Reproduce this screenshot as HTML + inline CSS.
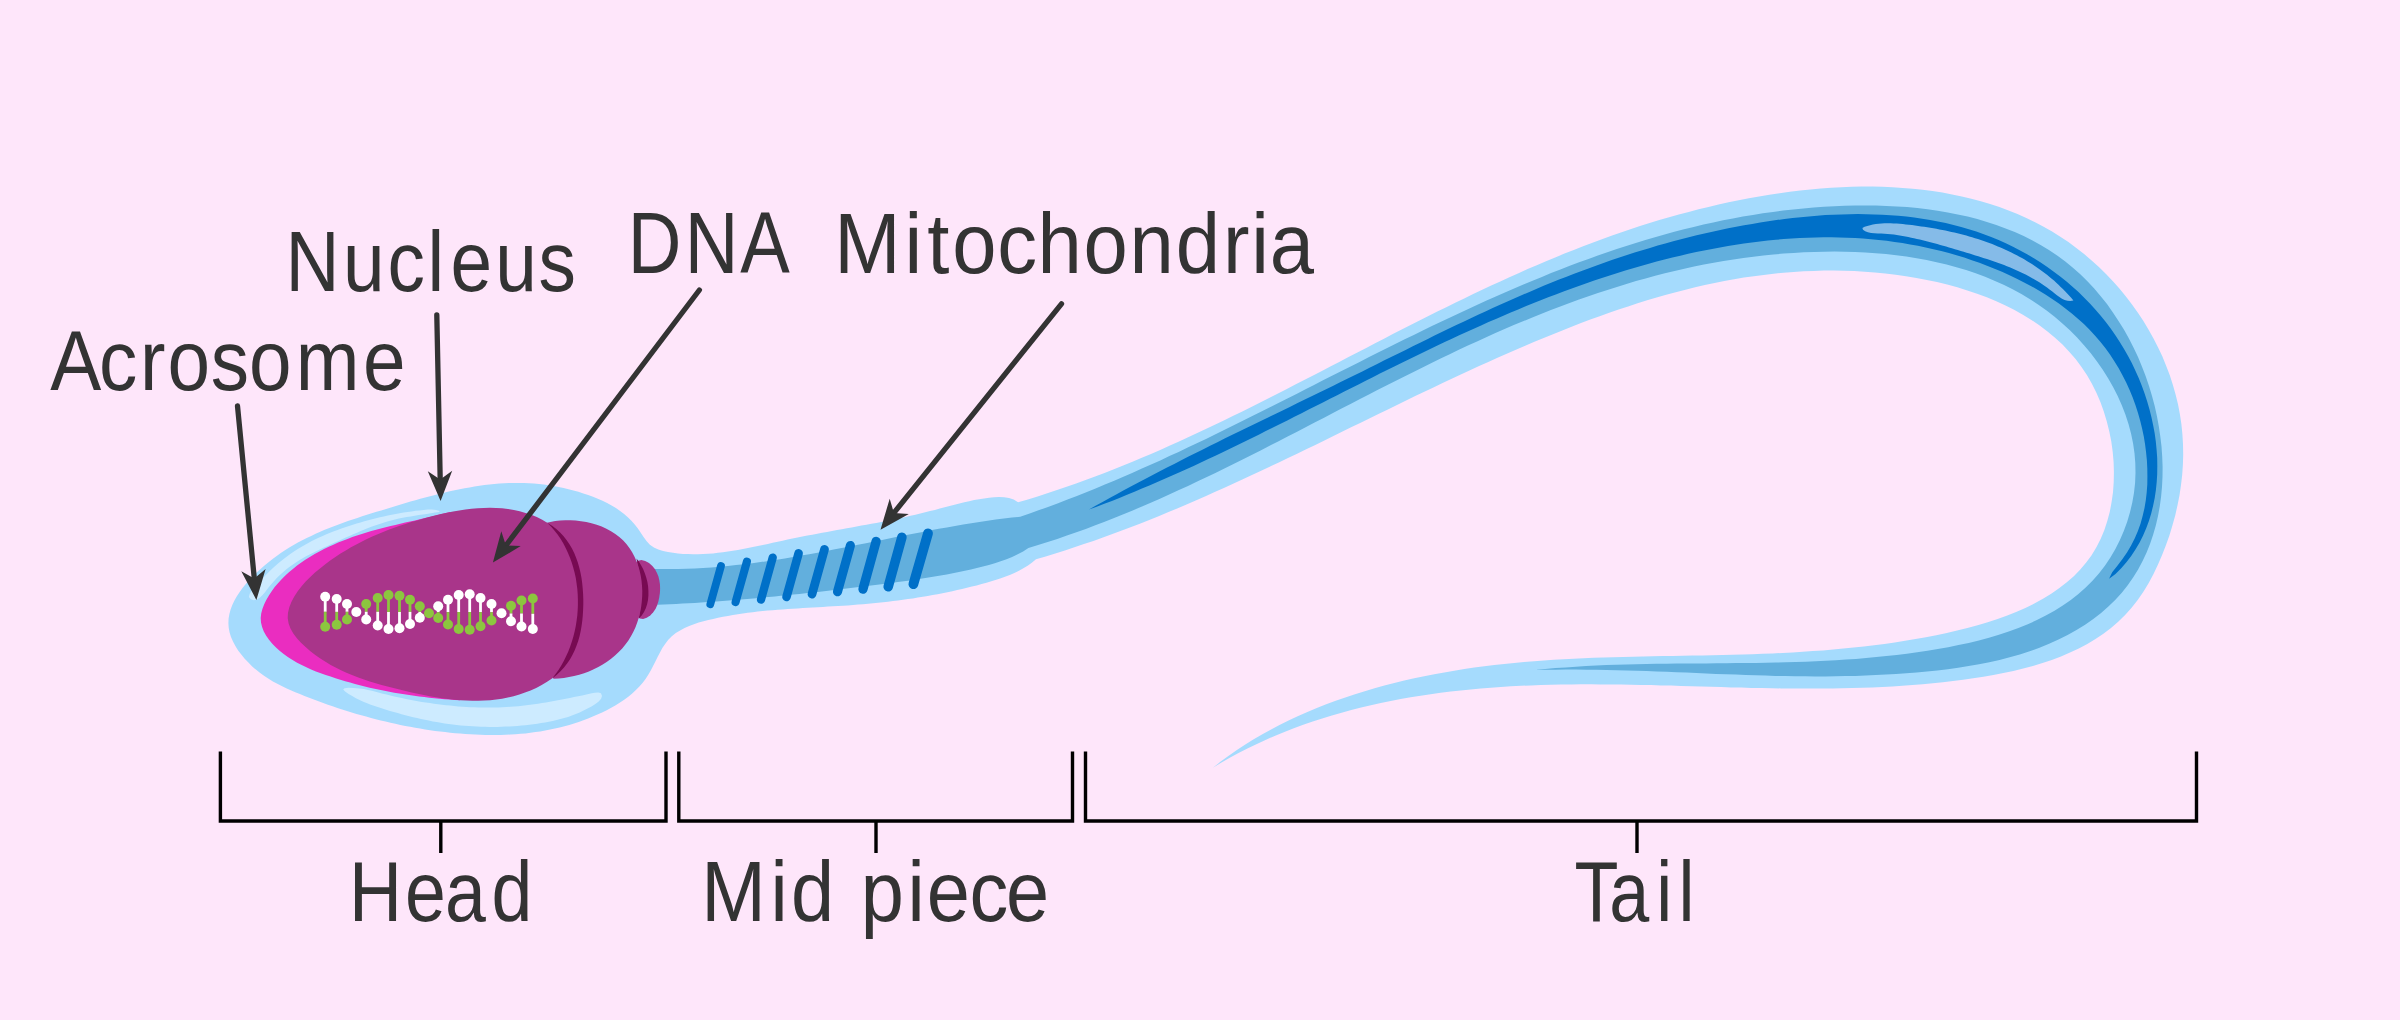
<!DOCTYPE html><html><head><meta charset="utf-8"><title>Sperm structure</title><style>html,body{margin:0;padding:0;background:#FEE6FA}svg{display:block}</style></head><body>
<svg width="2400" height="1020" viewBox="0 0 2400 1020" font-family="'Liberation Sans', sans-serif" fill="#333333">
<rect width="2400" height="1020" fill="#FEE6FA"/>
<path d="M1018.1 502.3 L1013.7 499.6 L1009.0 497.9 L1004.1 497.2 L999.1 497.0 L994.1 497.3 L989.1 497.8 L984.1 498.4 L979.1 499.2 L974.1 500.1 L969.2 501.2 L964.3 502.3 L959.4 503.5 L954.5 504.7 L949.6 506.0 L944.7 507.3 L939.8 508.6 L934.9 509.9 L930.0 511.1 L925.2 512.3 L920.3 513.5 L915.4 514.7 L910.5 515.8 L905.6 516.9 L900.7 517.9 L895.9 519.0 L891.0 520.0 L886.1 521.0 L881.2 521.9 L876.3 522.9 L871.4 523.8 L866.5 524.7 L861.5 525.6 L856.6 526.5 L851.7 527.4 L846.8 528.3 L841.9 529.2 L837.0 530.1 L832.0 531.0 L827.1 531.9 L822.2 532.8 L817.3 533.8 L812.3 534.7 L807.4 535.6 L802.4 536.6 L797.5 537.6 L792.5 538.6 L787.6 539.6 L782.6 540.7 L777.7 541.8 L772.7 542.8 L767.8 543.9 L762.8 545.0 L757.8 546.1 L752.8 547.1 L747.9 548.1 L742.9 549.0 L737.9 549.9 L732.9 550.8 L727.9 551.6 L723.0 552.2 L718.0 552.8 L713.0 553.4 L708.0 553.8 L703.0 554.0 L698.0 554.2 L693.0 554.2 L688.0 554.1 L683.0 553.9 L678.0 553.4 L673.0 552.8 L668.0 552.1 L663.1 551.1 L658.3 549.6 L653.9 547.5 L649.9 544.7 L646.5 541.0 L643.4 536.7 L640.6 532.4 L637.7 528.3 L634.7 524.4 L631.4 520.7 L627.8 517.2 L624.1 514.0 L620.1 510.9 L615.9 508.1 L611.6 505.5 L607.1 503.1 L602.5 500.8 L597.8 498.7 L593.0 496.8 L588.2 495.0 L583.3 493.4 L578.4 491.8 L573.4 490.5 L568.5 489.2 L563.6 488.0 L558.6 487.0 L553.7 486.1 L548.8 485.3 L543.8 484.6 L538.9 484.0 L533.9 483.6 L529.0 483.2 L524.1 483.0 L519.1 482.9 L514.2 482.9 L509.2 483.1 L504.2 483.3 L499.3 483.6 L494.3 484.0 L489.4 484.5 L484.4 485.1 L479.5 485.8 L474.5 486.5 L469.6 487.4 L464.6 488.3 L459.7 489.2 L454.7 490.3 L449.8 491.3 L444.8 492.5 L439.9 493.7 L435.0 494.9 L430.1 496.2 L425.2 497.5 L420.3 498.8 L415.4 500.2 L410.5 501.6 L405.6 503.1 L400.7 504.5 L395.8 506.0 L391.0 507.4 L386.1 508.9 L381.3 510.4 L376.5 511.8 L371.7 513.3 L366.9 514.8 L362.1 516.3 L357.4 517.9 L352.6 519.5 L347.9 521.1 L343.2 522.7 L338.6 524.4 L333.9 526.2 L329.3 528.0 L324.7 529.8 L320.2 531.8 L315.6 533.8 L311.2 535.9 L306.7 538.0 L302.3 540.3 L297.9 542.6 L293.6 545.1 L289.3 547.6 L285.0 550.3 L280.8 553.1 L276.7 556.0 L272.6 559.0 L268.5 562.2 L264.5 565.5 L260.6 568.9 L256.7 572.5 L252.9 576.2 L249.2 580.0 L245.8 584.0 L242.5 588.0 L239.5 592.2 L236.7 596.4 L234.3 600.7 L232.3 605.1 L230.6 609.6 L229.4 614.1 L228.6 618.6 L228.4 623.2 L228.7 627.8 L229.6 632.4 L231.0 637.0 L233.0 641.5 L235.4 646.0 L238.1 650.4 L241.3 654.6 L244.7 658.7 L248.4 662.6 L252.2 666.4 L256.2 669.8 L260.2 673.0 L264.4 676.0 L268.6 678.8 L272.9 681.4 L277.3 683.8 L281.7 686.1 L286.2 688.2 L290.7 690.3 L295.3 692.2 L299.9 694.1 L304.5 696.0 L309.2 697.8 L313.8 699.5 L318.5 701.3 L323.2 703.0 L327.9 704.7 L332.6 706.3 L337.4 707.9 L342.1 709.4 L346.9 711.0 L351.7 712.4 L356.5 713.9 L361.3 715.3 L366.1 716.6 L371.0 717.9 L375.8 719.2 L380.7 720.4 L385.6 721.6 L390.5 722.7 L395.4 723.8 L400.3 724.9 L405.3 725.9 L410.2 726.8 L415.2 727.7 L420.1 728.6 L425.1 729.4 L430.1 730.2 L435.1 730.9 L440.1 731.5 L445.1 732.1 L450.2 732.7 L455.2 733.2 L460.2 733.6 L465.3 734.0 L470.3 734.3 L475.4 734.6 L480.4 734.8 L485.5 734.9 L490.5 735.0 L495.6 735.0 L500.6 734.9 L505.6 734.8 L510.6 734.5 L515.6 734.2 L520.6 733.8 L525.5 733.4 L530.5 732.8 L535.4 732.1 L540.3 731.4 L545.2 730.6 L550.1 729.6 L554.9 728.6 L559.7 727.5 L564.5 726.3 L569.3 724.9 L574.0 723.5 L578.7 721.9 L583.4 720.3 L588.1 718.5 L592.8 716.6 L597.4 714.6 L602.1 712.5 L606.7 710.2 L611.2 707.8 L615.7 705.3 L620.0 702.6 L624.2 699.7 L628.3 696.7 L632.2 693.5 L635.9 690.1 L639.4 686.6 L642.7 682.8 L645.7 678.8 L648.4 674.6 L650.9 670.2 L653.2 665.8 L655.5 661.2 L657.7 656.7 L660.1 652.2 L662.5 647.8 L665.3 643.7 L668.3 639.8 L671.8 636.2 L675.8 633.1 L680.1 630.4 L684.6 628.0 L689.2 626.0 L693.9 624.2 L698.7 622.6 L703.5 621.3 L708.3 620.0 L713.2 618.9 L718.1 617.8 L723.0 616.8 L727.9 615.9 L732.9 615.0 L737.8 614.2 L742.8 613.5 L747.7 612.8 L752.7 612.2 L757.7 611.6 L762.7 611.1 L767.7 610.6 L772.7 610.2 L777.7 609.8 L782.7 609.4 L787.7 609.0 L792.7 608.7 L797.8 608.4 L802.8 608.1 L807.8 607.8 L812.8 607.5 L817.9 607.2 L822.9 606.9 L827.9 606.6 L833.0 606.3 L838.0 606.0 L843.0 605.7 L848.0 605.4 L853.1 605.0 L858.1 604.6 L863.1 604.2 L868.1 603.7 L873.1 603.3 L878.1 602.8 L883.1 602.2 L888.0 601.7 L893.0 601.1 L898.0 600.5 L903.0 599.8 L907.9 599.1 L912.9 598.4 L917.8 597.6 L922.8 596.8 L927.7 596.0 L932.6 595.1 L937.6 594.2 L942.5 593.2 L947.4 592.2 L952.3 591.2 L957.2 590.1 L962.1 589.0 L967.0 587.8 L971.9 586.6 L976.7 585.4 L981.6 584.1 L986.5 582.7 L991.3 581.3 L996.2 579.8 L1000.9 578.2 L1005.7 576.6 L1010.4 574.7 L1014.9 572.7 L1019.4 570.5 L1023.8 568.1 L1028.0 565.4 L1032.1 562.4 L1036.0 559.2 L1045.7 556.4 L1055.3 553.4 L1064.9 550.4 L1074.4 547.3 L1083.9 544.1 L1093.4 540.9 L1102.9 537.5 L1112.4 534.1 L1121.8 530.6 L1131.2 527.0 L1140.5 523.4 L1149.9 519.7 L1159.2 515.9 L1168.5 512.1 L1177.8 508.2 L1187.1 504.2 L1196.3 500.2 L1205.5 496.2 L1214.7 492.1 L1223.9 488.0 L1233.1 483.8 L1242.3 479.6 L1251.4 475.3 L1260.6 471.0 L1269.7 466.7 L1278.8 462.4 L1288.0 458.0 L1297.1 453.7 L1306.2 449.3 L1315.3 444.9 L1324.4 440.4 L1333.4 436.0 L1342.5 431.6 L1351.6 427.1 L1360.7 422.7 L1369.8 418.2 L1378.9 413.8 L1387.9 409.4 L1397.0 404.9 L1406.1 400.5 L1415.2 396.1 L1424.3 391.8 L1433.4 387.4 L1442.6 383.1 L1451.7 378.8 L1460.8 374.5 L1470.0 370.3 L1479.1 366.1 L1488.3 361.9 L1497.5 357.8 L1506.7 353.8 L1515.9 349.7 L1525.2 345.8 L1534.4 341.8 L1543.7 338.0 L1553.0 334.2 L1562.3 330.4 L1571.6 326.7 L1581.0 323.1 L1590.3 319.6 L1599.7 316.2 L1609.2 312.8 L1618.6 309.5 L1628.1 306.4 L1637.6 303.3 L1647.1 300.3 L1656.6 297.5 L1666.2 294.8 L1675.8 292.2 L1685.5 289.7 L1695.1 287.3 L1704.8 285.1 L1714.6 283.0 L1724.3 281.1 L1734.1 279.3 L1743.9 277.6 L1753.8 276.2 L1763.7 274.9 L1773.6 273.7 L1783.6 272.7 L1793.6 271.9 L1803.6 271.3 L1813.7 270.9 L1823.8 270.6 L1833.9 270.6 L1844.1 270.8 L1854.3 271.1 L1864.6 271.7 L1874.9 272.5 L1885.3 273.5 L1895.7 274.7 L1906.0 276.2 L1916.4 277.9 L1926.8 279.9 L1937.0 282.1 L1947.2 284.6 L1957.3 287.3 L1967.3 290.4 L1977.1 293.7 L1986.8 297.3 L1996.3 301.2 L2005.5 305.5 L2014.5 310.1 L2023.3 315.0 L2031.8 320.2 L2040.0 325.8 L2047.8 331.7 L2055.3 338.0 L2062.5 344.6 L2069.2 351.7 L2075.6 359.1 L2081.5 366.9 L2086.9 375.1 L2091.9 383.7 L2096.4 392.7 L2100.4 402.0 L2103.8 411.6 L2106.8 421.4 L2109.3 431.4 L2111.3 441.5 L2112.7 451.7 L2113.6 461.9 L2113.9 472.1 L2113.7 482.2 L2113.0 492.2 L2111.6 502.1 L2109.8 511.8 L2107.3 521.1 L2104.3 530.2 L2100.6 539.0 L2096.4 547.3 L2091.6 555.2 L2086.2 562.6 L2080.3 569.6 L2073.8 576.2 L2066.8 582.3 L2059.4 588.1 L2051.6 593.5 L2043.4 598.6 L2034.8 603.3 L2025.9 607.7 L2016.7 611.7 L2007.3 615.5 L1997.6 619.0 L1987.7 622.3 L1977.6 625.3 L1967.4 628.1 L1957.1 630.6 L1946.8 633.0 L1936.3 635.2 L1925.9 637.2 L1915.5 639.1 L1905.1 640.8 L1894.8 642.4 L1884.4 643.9 L1874.1 645.2 L1863.9 646.5 L1853.6 647.6 L1843.4 648.6 L1833.2 649.6 L1823.1 650.4 L1812.9 651.1 L1802.8 651.8 L1792.7 652.4 L1782.7 652.9 L1772.6 653.4 L1762.6 653.8 L1752.5 654.2 L1742.5 654.5 L1732.5 654.8 L1722.6 655.0 L1712.6 655.2 L1702.6 655.4 L1692.7 655.6 L1682.7 655.8 L1672.8 655.9 L1662.9 656.1 L1653.0 656.3 L1643.1 656.5 L1633.2 656.7 L1623.3 656.9 L1613.3 657.2 L1603.4 657.5 L1593.5 657.8 L1583.6 658.2 L1573.7 658.7 L1563.8 659.2 L1553.9 659.8 L1544.0 660.5 L1534.1 661.2 L1524.1 662.0 L1514.2 662.9 L1504.2 664.0 L1494.3 665.1 L1484.3 666.3 L1474.3 667.6 L1464.3 669.1 L1454.3 670.7 L1444.3 672.4 L1434.3 674.2 L1424.2 676.2 L1414.2 678.3 L1404.3 680.6 L1394.3 683.0 L1384.4 685.6 L1374.6 688.3 L1364.8 691.2 L1355.0 694.2 L1345.3 697.4 L1335.7 700.8 L1326.2 704.3 L1316.8 708.0 L1307.4 711.9 L1298.2 716.0 L1289.1 720.3 L1280.0 724.7 L1271.1 729.4 L1262.4 734.2 L1253.7 739.3 L1245.3 744.6 L1236.9 750.0 L1228.7 755.7 L1220.7 761.6 L1212.9 767.7 L1221.5 762.5 L1230.2 757.6 L1239.0 752.8 L1247.9 748.3 L1256.9 743.9 L1266.0 739.7 L1275.2 735.7 L1284.4 731.9 L1293.8 728.3 L1303.2 724.8 L1312.7 721.5 L1322.2 718.4 L1331.9 715.5 L1341.6 712.7 L1351.3 710.0 L1361.1 707.6 L1370.9 705.2 L1380.8 703.0 L1390.7 701.0 L1400.6 699.1 L1410.6 697.3 L1420.6 695.7 L1430.6 694.2 L1440.6 692.8 L1450.6 691.6 L1460.7 690.4 L1470.7 689.4 L1480.7 688.5 L1490.8 687.7 L1500.8 687.0 L1510.8 686.3 L1520.9 685.8 L1530.9 685.4 L1540.9 685.0 L1550.9 684.8 L1560.9 684.6 L1571.0 684.4 L1581.0 684.3 L1591.0 684.3 L1601.0 684.4 L1611.1 684.4 L1621.1 684.6 L1631.1 684.7 L1641.1 684.9 L1651.1 685.1 L1661.2 685.4 L1671.2 685.6 L1681.2 685.9 L1691.3 686.2 L1701.3 686.5 L1711.3 686.8 L1721.3 687.1 L1731.4 687.4 L1741.4 687.6 L1751.5 687.9 L1761.5 688.1 L1771.5 688.3 L1781.6 688.4 L1791.6 688.5 L1801.7 688.6 L1811.8 688.6 L1821.8 688.6 L1831.9 688.5 L1841.9 688.3 L1852.0 688.1 L1862.1 687.8 L1872.2 687.4 L1882.3 687.0 L1892.4 686.4 L1902.4 685.8 L1912.5 685.1 L1922.6 684.2 L1932.8 683.3 L1942.9 682.2 L1953.0 681.1 L1963.1 679.8 L1973.2 678.3 L1983.4 676.8 L1993.4 675.0 L2003.4 673.1 L2013.4 671.0 L2023.2 668.6 L2032.9 666.0 L2042.5 663.1 L2051.8 659.9 L2061.0 656.5 L2070.0 652.6 L2078.8 648.5 L2087.3 643.9 L2095.5 639.0 L2103.4 633.7 L2111.0 627.9 L2118.2 621.7 L2125.1 614.9 L2131.6 607.7 L2137.7 600.0 L2143.4 591.8 L2148.7 583.1 L2153.5 574.0 L2158.0 564.6 L2162.1 555.0 L2165.9 545.3 L2169.4 535.4 L2172.4 525.5 L2175.2 515.4 L2177.5 505.3 L2179.5 495.2 L2181.0 485.0 L2182.2 474.8 L2182.9 464.6 L2183.2 454.4 L2183.0 444.3 L2182.4 434.2 L2181.4 424.2 L2179.9 414.2 L2178.0 404.3 L2175.6 394.5 L2172.9 384.9 L2169.8 375.3 L2166.2 365.9 L2162.4 356.6 L2158.1 347.4 L2153.5 338.5 L2148.6 329.7 L2143.4 321.1 L2137.9 312.7 L2132.0 304.5 L2125.9 296.5 L2119.6 288.7 L2112.9 281.3 L2106.0 274.0 L2098.9 267.1 L2091.6 260.4 L2084.1 254.0 L2076.3 247.9 L2068.4 242.1 L2060.3 236.7 L2052.1 231.5 L2043.6 226.7 L2035.1 222.2 L2026.3 218.0 L2017.5 214.1 L2008.5 210.4 L1999.4 207.1 L1990.1 204.0 L1980.8 201.2 L1971.3 198.7 L1961.8 196.4 L1952.1 194.4 L1942.4 192.6 L1932.5 191.1 L1922.6 189.8 L1912.7 188.7 L1902.6 187.9 L1892.5 187.3 L1882.4 186.8 L1872.2 186.6 L1862.0 186.6 L1851.7 186.8 L1841.4 187.2 L1831.1 187.8 L1820.8 188.5 L1810.5 189.5 L1800.2 190.5 L1789.9 191.8 L1779.6 193.2 L1769.4 194.8 L1759.1 196.4 L1748.9 198.3 L1738.7 200.2 L1728.6 202.3 L1718.5 204.6 L1708.5 206.9 L1698.6 209.3 L1688.7 211.9 L1678.8 214.5 L1669.1 217.3 L1659.3 220.1 L1649.6 223.1 L1640.0 226.1 L1630.4 229.3 L1620.9 232.5 L1611.4 235.8 L1601.9 239.2 L1592.5 242.7 L1583.1 246.3 L1573.8 249.9 L1564.5 253.6 L1555.2 257.4 L1546.0 261.3 L1536.8 265.2 L1527.6 269.1 L1518.5 273.2 L1509.4 277.3 L1500.3 281.4 L1491.2 285.6 L1482.2 289.8 L1473.2 294.1 L1464.2 298.4 L1455.2 302.8 L1446.3 307.2 L1437.3 311.6 L1428.4 316.1 L1419.5 320.5 L1410.6 325.0 L1401.7 329.6 L1392.8 334.1 L1384.0 338.7 L1375.1 343.3 L1366.2 347.9 L1357.4 352.5 L1348.5 357.1 L1339.7 361.7 L1330.8 366.3 L1321.9 370.9 L1313.1 375.5 L1304.2 380.1 L1295.3 384.6 L1286.4 389.2 L1277.5 393.7 L1268.6 398.3 L1259.7 402.8 L1250.8 407.2 L1241.8 411.7 L1232.8 416.1 L1223.8 420.5 L1214.8 424.8 L1205.8 429.1 L1196.7 433.3 L1187.6 437.6 L1178.5 441.7 L1169.4 445.8 L1160.2 449.9 L1151.0 453.9 L1141.8 457.8 L1132.5 461.7 L1123.2 465.5 L1113.9 469.3 L1104.5 472.9 L1095.1 476.5 L1085.6 480.0 L1076.1 483.5 L1066.6 486.8 L1057.0 490.1 L1047.3 493.3 L1037.6 496.4 L1027.9 499.4Z" fill="#A5DBFD"/>
<path d="M653.5 569.0 L661.8 569.1 L670.1 569.1 L678.4 569.0 L686.6 568.8 L694.9 568.4 L703.1 568.0 L711.4 567.4 L719.6 566.7 L727.8 566.0 L736.0 565.1 L744.1 564.2 L752.3 563.2 L760.5 562.1 L768.6 560.9 L776.8 559.7 L784.9 558.4 L793.0 557.0 L801.1 555.6 L809.3 554.2 L817.4 552.7 L825.5 551.2 L833.6 549.6 L841.7 548.0 L849.8 546.4 L857.9 544.8 L866.0 543.2 L874.1 541.5 L882.1 539.9 L890.2 538.3 L898.3 536.6 L906.4 535.0 L914.5 533.4 L922.6 531.9 L930.7 530.3 L938.8 528.8 L946.9 527.4 L955.0 525.9 L963.2 524.6 L971.3 523.2 L979.4 522.0 L987.6 520.8 L995.7 519.6 L1003.9 518.6 L1012.0 517.6 L1020.2 516.7 L1029.7 513.4 L1039.2 510.1 L1048.7 506.7 L1058.1 503.2 L1067.5 499.6 L1076.9 495.9 L1086.3 492.2 L1095.6 488.4 L1104.9 484.6 L1114.2 480.7 L1123.4 476.7 L1132.7 472.7 L1141.9 468.6 L1151.1 464.5 L1160.3 460.4 L1169.4 456.1 L1178.6 451.9 L1187.7 447.6 L1196.8 443.3 L1206.0 438.9 L1215.0 434.5 L1224.1 430.1 L1233.2 425.6 L1242.3 421.1 L1251.3 416.6 L1260.4 412.1 L1269.4 407.6 L1278.4 403.0 L1287.4 398.5 L1296.5 393.9 L1305.5 389.3 L1314.5 384.7 L1323.5 380.1 L1332.5 375.6 L1341.5 371.0 L1350.6 366.4 L1359.6 361.9 L1368.6 357.3 L1377.6 352.8 L1386.7 348.3 L1395.7 343.8 L1404.7 339.3 L1413.8 334.9 L1422.8 330.5 L1431.9 326.1 L1441.0 321.7 L1450.1 317.4 L1459.2 313.2 L1468.3 308.9 L1477.4 304.7 L1486.6 300.6 L1495.8 296.5 L1504.9 292.5 L1514.1 288.5 L1523.4 284.5 L1532.6 280.7 L1541.9 276.9 L1551.1 273.1 L1560.4 269.4 L1569.8 265.8 L1579.1 262.3 L1588.5 258.9 L1597.9 255.5 L1607.3 252.2 L1616.8 249.0 L1626.3 245.9 L1635.8 242.9 L1645.4 240.0 L1655.0 237.2 L1664.6 234.4 L1674.3 231.8 L1684.0 229.3 L1693.7 226.9 L1703.5 224.6 L1713.3 222.4 L1723.1 220.3 L1733.0 218.4 L1742.9 216.6 L1752.9 214.9 L1762.9 213.3 L1773.0 211.9 L1783.1 210.6 L1793.3 209.4 L1803.5 208.4 L1813.7 207.5 L1824.0 206.8 L1834.4 206.2 L1844.7 205.8 L1855.1 205.5 L1865.5 205.5 L1876.0 205.6 L1886.3 205.9 L1896.7 206.4 L1907.0 207.1 L1917.3 208.1 L1927.5 209.3 L1937.7 210.7 L1947.7 212.4 L1957.7 214.4 L1967.6 216.6 L1977.3 219.1 L1986.9 221.9 L1996.3 225.0 L2005.6 228.4 L2014.8 232.1 L2023.7 236.1 L2032.5 240.5 L2041.0 245.2 L2049.3 250.3 L2057.5 255.7 L2065.3 261.5 L2072.9 267.7 L2080.3 274.3 L2087.4 281.3 L2094.2 288.6 L2100.7 296.2 L2107.0 304.1 L2112.9 312.4 L2118.5 320.9 L2123.9 329.6 L2128.9 338.6 L2133.6 347.8 L2138.0 357.1 L2142.0 366.7 L2145.7 376.3 L2149.0 386.1 L2152.0 396.1 L2154.7 406.1 L2156.9 416.1 L2158.8 426.2 L2160.3 436.4 L2161.5 446.5 L2162.2 456.6 L2162.6 466.7 L2162.5 476.8 L2162.0 486.7 L2161.1 496.6 L2159.8 506.3 L2158.0 515.9 L2155.8 525.4 L2153.2 534.6 L2150.1 543.7 L2146.6 552.5 L2142.6 561.1 L2138.1 569.5 L2133.1 577.5 L2127.7 585.3 L2121.8 592.7 L2115.4 599.8 L2108.4 606.6 L2101.1 613.0 L2093.3 619.0 L2085.1 624.7 L2076.5 630.0 L2067.6 634.9 L2058.5 639.5 L2049.1 643.8 L2039.5 647.7 L2029.7 651.2 L2019.8 654.4 L2009.7 657.3 L1999.5 659.9 L1989.3 662.3 L1979.0 664.3 L1968.6 666.1 L1958.2 667.8 L1947.8 669.2 L1937.3 670.4 L1926.9 671.5 L1916.6 672.5 L1906.3 673.3 L1896.0 674.0 L1885.8 674.6 L1875.6 675.1 L1865.5 675.6 L1855.4 675.9 L1845.3 676.1 L1835.2 676.3 L1825.2 676.4 L1815.2 676.4 L1805.3 676.3 L1795.3 676.2 L1785.4 676.1 L1775.5 675.9 L1765.6 675.6 L1755.7 675.3 L1745.8 675.0 L1736.0 674.6 L1726.1 674.3 L1716.2 673.9 L1706.3 673.5 L1696.4 673.1 L1686.5 672.6 L1676.6 672.2 L1666.7 671.8 L1656.7 671.5 L1646.8 671.1 L1636.8 670.8 L1626.8 670.5 L1616.7 670.2 L1606.6 670.0 L1596.5 669.8 L1586.4 669.7 L1576.2 669.6 L1566.0 669.6 L1555.7 669.7 L1545.4 669.8 L1535.0 670.0 L1545.3 669.0 L1555.6 668.1 L1565.8 667.4 L1576.0 666.7 L1586.1 666.1 L1596.3 665.6 L1606.4 665.1 L1616.5 664.8 L1626.5 664.5 L1636.5 664.2 L1646.6 664.0 L1656.5 663.8 L1666.5 663.7 L1676.5 663.6 L1686.4 663.5 L1696.4 663.4 L1706.3 663.4 L1716.3 663.3 L1726.2 663.2 L1736.1 663.1 L1746.1 663.0 L1756.0 662.9 L1765.9 662.8 L1775.9 662.6 L1785.8 662.3 L1795.8 662.1 L1805.8 661.7 L1815.8 661.3 L1825.8 660.8 L1835.9 660.3 L1845.9 659.6 L1856.0 658.9 L1866.1 658.1 L1876.3 657.1 L1886.4 656.1 L1896.7 654.9 L1906.9 653.7 L1917.2 652.3 L1927.5 650.7 L1937.8 649.0 L1948.2 647.2 L1958.5 645.1 L1968.7 642.9 L1978.9 640.4 L1989.0 637.7 L1998.9 634.8 L2008.7 631.5 L2018.4 628.0 L2027.8 624.2 L2036.9 620.1 L2045.8 615.6 L2054.5 610.8 L2062.8 605.6 L2070.8 600.0 L2078.4 594.1 L2085.7 587.6 L2092.5 580.8 L2098.9 573.5 L2104.9 565.7 L2110.4 557.6 L2115.4 549.1 L2119.8 540.2 L2123.8 531.1 L2127.2 521.8 L2130.0 512.2 L2132.3 502.6 L2134.0 492.7 L2135.1 482.9 L2135.5 473.0 L2135.3 463.1 L2134.5 453.2 L2133.1 443.5 L2131.1 433.7 L2128.5 424.1 L2125.4 414.6 L2121.8 405.3 L2117.7 396.1 L2113.1 387.0 L2108.1 378.2 L2102.6 369.6 L2096.8 361.2 L2090.6 353.0 L2084.0 345.2 L2077.1 337.6 L2069.9 330.3 L2062.4 323.4 L2054.6 316.8 L2046.6 310.6 L2038.4 304.7 L2030.0 299.2 L2021.4 294.1 L2012.6 289.3 L2003.6 284.8 L1994.4 280.7 L1985.1 276.8 L1975.7 273.3 L1966.1 270.1 L1956.4 267.2 L1946.6 264.5 L1936.6 262.2 L1926.6 260.1 L1916.6 258.2 L1906.4 256.6 L1896.2 255.3 L1886.0 254.1 L1875.7 253.2 L1865.4 252.5 L1855.1 252.0 L1844.8 251.7 L1834.5 251.6 L1824.2 251.7 L1814.0 251.9 L1803.8 252.3 L1793.6 252.9 L1783.5 253.6 L1773.4 254.5 L1763.4 255.5 L1753.4 256.7 L1743.4 258.0 L1733.5 259.4 L1723.6 261.0 L1713.7 262.7 L1703.9 264.6 L1694.1 266.6 L1684.3 268.7 L1674.6 271.0 L1664.9 273.3 L1655.2 275.8 L1645.6 278.4 L1636.0 281.1 L1626.4 283.9 L1616.9 286.9 L1607.4 289.9 L1597.9 293.0 L1588.5 296.2 L1579.0 299.5 L1569.6 303.0 L1560.3 306.5 L1550.9 310.0 L1541.6 313.7 L1532.3 317.4 L1523.0 321.3 L1513.8 325.1 L1504.6 329.1 L1495.4 333.1 L1486.2 337.2 L1477.0 341.4 L1467.9 345.6 L1458.8 349.8 L1449.7 354.2 L1440.6 358.5 L1431.5 362.9 L1422.5 367.4 L1413.5 371.9 L1404.4 376.4 L1395.4 380.9 L1386.4 385.5 L1377.4 390.1 L1368.4 394.7 L1359.5 399.3 L1350.5 404.0 L1341.5 408.6 L1332.5 413.3 L1323.6 418.0 L1314.6 422.6 L1305.6 427.3 L1296.6 431.9 L1287.6 436.6 L1278.6 441.2 L1269.6 445.8 L1260.6 450.4 L1251.6 454.9 L1242.6 459.5 L1233.5 464.0 L1224.4 468.4 L1215.4 472.9 L1206.3 477.3 L1197.2 481.6 L1188.0 485.9 L1178.9 490.1 L1169.7 494.3 L1160.5 498.4 L1151.3 502.5 L1142.0 506.5 L1132.7 510.4 L1123.4 514.3 L1114.1 518.0 L1104.7 521.7 L1095.3 525.3 L1085.8 528.9 L1076.4 532.3 L1066.9 535.6 L1057.3 538.9 L1047.7 542.0 L1038.1 545.1 L1028.4 548.0 L1023.1 551.4 L1017.7 554.3 L1012.1 556.9 L1006.5 559.2 L1000.7 561.3 L994.8 563.2 L988.9 564.9 L982.9 566.5 L976.9 568.0 L970.9 569.4 L964.9 570.8 L958.9 572.1 L952.8 573.3 L946.7 574.5 L940.6 575.6 L934.5 576.6 L928.4 577.6 L922.3 578.6 L916.2 579.5 L910.0 580.4 L903.9 581.2 L897.7 582.1 L891.6 582.9 L885.4 583.7 L879.3 584.4 L873.1 585.2 L867.0 586.0 L860.8 586.8 L854.7 587.5 L848.5 588.3 L842.4 589.0 L836.2 589.7 L830.1 590.4 L824.0 591.2 L817.8 591.9 L811.7 592.5 L805.5 593.2 L799.4 593.9 L793.2 594.5 L787.1 595.2 L780.9 595.8 L774.8 596.4 L768.6 597.0 L762.5 597.6 L756.3 598.2 L750.2 598.7 L744.0 599.3 L737.9 599.8 L731.7 600.3 L725.5 600.8 L719.4 601.2 L713.2 601.7 L707.0 602.1 L700.9 602.5 L694.7 602.9 L688.5 603.3 L682.3 603.6 L676.1 604.0 L669.9 604.3 L663.7 604.5 L657.5 604.8Z" fill="#62AFDD"/>
<path d="M1089.0 509.6 L1096.0 505.6 L1103.0 501.7 L1110.1 497.8 L1117.1 493.9 L1124.2 490.1 L1131.3 486.3 L1138.4 482.5 L1145.6 478.7 L1152.7 475.0 L1159.8 471.3 L1167.0 467.6 L1174.2 463.9 L1181.3 460.2 L1188.5 456.6 L1195.7 453.0 L1202.9 449.4 L1210.1 445.8 L1217.4 442.2 L1224.6 438.6 L1231.8 435.1 L1239.1 431.5 L1246.3 428.0 L1253.6 424.5 L1260.8 421.0 L1268.1 417.4 L1275.3 413.9 L1282.6 410.4 L1289.8 406.9 L1297.1 403.3 L1304.3 399.8 L1311.6 396.3 L1318.8 392.8 L1326.1 389.2 L1333.3 385.7 L1340.6 382.1 L1347.8 378.5 L1355.0 375.0 L1362.3 371.4 L1369.5 367.8 L1376.7 364.2 L1383.9 360.6 L1391.1 357.0 L1398.4 353.4 L1405.6 349.9 L1412.8 346.3 L1420.1 342.7 L1427.3 339.2 L1434.5 335.6 L1441.8 332.1 L1449.0 328.6 L1456.3 325.1 L1463.5 321.7 L1470.8 318.2 L1478.1 314.8 L1485.4 311.4 L1492.7 308.1 L1500.0 304.8 L1507.4 301.5 L1514.7 298.2 L1522.1 295.0 L1529.4 291.9 L1536.8 288.7 L1544.2 285.6 L1551.7 282.6 L1559.1 279.6 L1566.6 276.7 L1574.1 273.8 L1581.6 271.0 L1589.1 268.2 L1596.6 265.4 L1604.2 262.8 L1611.8 260.1 L1619.4 257.6 L1627.0 255.1 L1634.6 252.6 L1642.3 250.2 L1650.0 247.9 L1657.7 245.6 L1665.4 243.4 L1673.2 241.3 L1681.0 239.2 L1688.8 237.3 L1696.6 235.3 L1704.5 233.5 L1712.4 231.7 L1720.3 230.0 L1728.2 228.3 L1736.2 226.8 L1744.1 225.3 L1752.2 223.9 L1760.2 222.5 L1768.3 221.3 L1776.4 220.1 L1784.5 219.0 L1792.6 218.0 L1800.8 217.2 L1808.9 216.4 L1817.1 215.7 L1825.3 215.1 L1833.4 214.7 L1841.6 214.4 L1849.7 214.2 L1857.9 214.1 L1866.0 214.2 L1874.1 214.4 L1882.2 214.7 L1890.3 215.2 L1898.3 215.8 L1906.3 216.6 L1914.3 217.6 L1922.2 218.7 L1930.1 220.0 L1937.9 221.5 L1945.7 223.1 L1953.5 225.0 L1961.2 227.0 L1968.8 229.2 L1976.3 231.6 L1983.8 234.3 L1991.2 237.1 L1998.6 240.1 L2005.8 243.3 L2013.0 246.8 L2020.1 250.4 L2027.1 254.3 L2033.9 258.3 L2040.7 262.6 L2047.3 267.0 L2053.8 271.7 L2060.2 276.5 L2066.5 281.5 L2072.5 286.7 L2078.5 292.1 L2084.2 297.7 L2089.9 303.5 L2095.3 309.4 L2100.5 315.5 L2105.6 321.8 L2110.5 328.3 L2115.2 334.9 L2119.6 341.7 L2123.9 348.7 L2127.9 355.8 L2131.8 363.1 L2135.3 370.6 L2138.7 378.1 L2141.8 385.8 L2144.6 393.6 L2147.2 401.4 L2149.5 409.4 L2151.5 417.4 L2153.2 425.4 L2154.7 433.5 L2155.8 441.6 L2156.6 449.7 L2157.2 457.9 L2157.3 466.0 L2157.2 474.0 L2156.7 482.1 L2155.9 490.0 L2154.7 497.9 L2153.1 505.7 L2151.2 513.4 L2148.9 520.9 L2146.2 528.3 L2143.1 535.5 L2139.6 542.5 L2135.6 549.3 L2131.2 555.9 L2126.4 562.2 L2121.2 568.2 L2115.5 574.0 L2109.1 578.8 L2112.2 572.3 L2117.2 565.9 L2122.3 559.3 L2127.0 552.4 L2131.1 545.4 L2134.8 538.2 L2137.9 530.9 L2140.6 523.4 L2142.7 515.8 L2144.5 508.1 L2145.8 500.3 L2146.7 492.4 L2147.3 484.5 L2147.4 476.5 L2147.3 468.5 L2146.9 460.5 L2146.1 452.5 L2145.1 444.5 L2143.8 436.5 L2142.1 428.6 L2140.2 420.7 L2138.0 412.9 L2135.5 405.2 L2132.7 397.5 L2129.6 390.0 L2126.2 382.6 L2122.6 375.4 L2118.7 368.3 L2114.5 361.4 L2110.0 354.6 L2105.3 348.1 L2100.3 341.8 L2095.1 335.7 L2089.6 329.8 L2083.9 324.1 L2077.9 318.7 L2071.8 313.4 L2065.4 308.4 L2058.9 303.6 L2052.2 299.0 L2045.4 294.5 L2038.4 290.3 L2031.3 286.2 L2024.1 282.4 L2016.8 278.7 L2009.5 275.2 L2002.0 271.8 L1994.5 268.7 L1987.0 265.7 L1979.4 262.8 L1971.8 260.2 L1964.2 257.6 L1956.5 255.3 L1948.9 253.1 L1941.2 251.1 L1933.4 249.2 L1925.7 247.4 L1917.9 245.8 L1910.2 244.4 L1902.4 243.0 L1894.5 241.9 L1886.7 240.8 L1878.8 240.0 L1871.0 239.2 L1863.1 238.6 L1855.2 238.1 L1847.3 237.7 L1839.4 237.4 L1831.4 237.3 L1823.5 237.3 L1815.6 237.4 L1807.6 237.7 L1799.6 238.0 L1791.7 238.5 L1783.7 239.1 L1775.8 239.8 L1767.8 240.5 L1759.8 241.4 L1751.8 242.4 L1743.9 243.5 L1735.9 244.7 L1728.0 246.0 L1720.0 247.4 L1712.1 248.9 L1704.1 250.5 L1696.2 252.1 L1688.2 253.8 L1680.3 255.7 L1672.4 257.6 L1664.5 259.6 L1656.6 261.6 L1648.8 263.8 L1640.9 266.0 L1633.1 268.2 L1625.3 270.6 L1617.5 273.0 L1609.7 275.5 L1601.9 278.0 L1594.2 280.6 L1586.5 283.3 L1578.8 286.0 L1571.1 288.7 L1563.5 291.6 L1555.8 294.4 L1548.2 297.3 L1540.7 300.3 L1533.1 303.3 L1525.6 306.3 L1518.2 309.4 L1510.7 312.5 L1503.3 315.7 L1495.9 318.9 L1488.5 322.1 L1481.1 325.4 L1473.8 328.7 L1466.5 332.0 L1459.2 335.3 L1451.9 338.7 L1444.7 342.1 L1437.4 345.5 L1430.2 349.0 L1423.0 352.5 L1415.8 355.9 L1408.6 359.5 L1401.4 363.0 L1394.3 366.5 L1387.1 370.1 L1379.9 373.6 L1372.8 377.2 L1365.7 380.8 L1358.5 384.4 L1351.4 388.0 L1344.3 391.6 L1337.2 395.2 L1330.0 398.8 L1322.9 402.4 L1315.8 406.0 L1308.7 409.6 L1301.6 413.2 L1294.4 416.8 L1287.3 420.4 L1280.1 424.0 L1273.0 427.6 L1265.8 431.1 L1258.7 434.7 L1251.5 438.2 L1244.3 441.8 L1237.1 445.3 L1229.9 448.7 L1222.7 452.2 L1215.4 455.7 L1208.2 459.1 L1200.9 462.5 L1193.6 465.9 L1186.3 469.2 L1179.0 472.5 L1171.6 475.8 L1164.2 479.1 L1156.8 482.3 L1149.4 485.5 L1141.9 488.6 L1134.5 491.8 L1127.0 494.8 L1119.4 497.9 L1111.9 500.9 L1104.3 503.8 L1096.7 506.7 L1089.0 509.6Z" fill="#0070C8"/>
<path d="M2073.4 300.5 L2071.4 298.1 L2069.3 295.8 L2067.2 293.5 L2065.1 291.2 L2062.9 289.0 L2060.7 286.9 L2058.5 284.7 L2056.3 282.7 L2054.0 280.6 L2051.7 278.7 L2049.3 276.7 L2047.0 274.8 L2044.6 273.0 L2042.2 271.2 L2039.8 269.4 L2037.3 267.7 L2034.8 266.0 L2032.3 264.3 L2029.8 262.7 L2027.2 261.2 L2024.6 259.6 L2022.0 258.1 L2019.4 256.7 L2016.8 255.3 L2014.1 253.9 L2011.4 252.6 L2008.7 251.3 L2006.0 250.0 L2003.3 248.7 L2000.5 247.5 L1997.8 246.4 L1995.0 245.2 L1992.2 244.1 L1989.3 243.1 L1986.5 242.0 L1983.7 241.0 L1980.8 240.0 L1977.9 239.1 L1975.0 238.2 L1972.1 237.3 L1969.2 236.4 L1966.3 235.6 L1963.3 234.8 L1960.4 234.1 L1957.4 233.3 L1954.4 232.6 L1951.4 231.9 L1948.4 231.2 L1945.4 230.6 L1942.4 230.0 L1939.4 229.4 L1936.4 228.8 L1933.4 228.3 L1930.3 227.8 L1927.3 227.3 L1924.2 226.8 L1921.2 226.4 L1918.1 225.9 L1915.0 225.5 L1912.0 225.1 L1908.9 224.8 L1905.8 224.4 L1902.8 224.1 L1899.7 223.8 L1896.7 223.6 L1893.6 223.4 L1890.6 223.3 L1887.6 223.3 L1884.6 223.3 L1881.6 223.5 L1878.7 223.7 L1875.8 224.1 L1872.9 224.6 L1870.1 225.2 L1867.3 225.9 L1864.6 226.8 L1862.4 228.0 L1863.0 229.7 L1865.2 231.2 L1867.9 232.3 L1871.1 232.9 L1874.4 233.2 L1877.8 233.4 L1881.2 233.5 L1884.5 233.7 L1887.7 234.0 L1890.8 234.3 L1893.9 234.6 L1896.8 235.1 L1899.7 235.5 L1902.6 236.0 L1905.5 236.5 L1908.3 237.1 L1911.2 237.7 L1914.0 238.3 L1916.9 239.0 L1919.8 239.6 L1922.7 240.3 L1925.6 241.1 L1928.5 241.8 L1931.4 242.6 L1934.3 243.3 L1937.3 244.1 L1940.2 244.9 L1943.1 245.7 L1946.1 246.6 L1949.0 247.4 L1951.9 248.3 L1954.9 249.2 L1957.8 250.0 L1960.8 250.9 L1963.7 251.8 L1966.6 252.7 L1969.6 253.6 L1972.5 254.5 L1975.4 255.4 L1978.3 256.3 L1981.2 257.2 L1984.1 258.2 L1987.0 259.1 L1989.9 260.1 L1992.7 261.0 L1995.6 262.0 L1998.4 263.0 L2001.3 264.1 L2004.1 265.1 L2006.9 266.2 L2009.7 267.3 L2012.5 268.5 L2015.2 269.7 L2018.0 270.9 L2020.7 272.2 L2023.4 273.5 L2026.1 274.8 L2028.8 276.2 L2031.4 277.7 L2034.1 279.2 L2036.7 280.7 L2039.3 282.3 L2041.9 284.0 L2044.4 285.8 L2047.0 287.6 L2049.5 289.4 L2052.0 291.3 L2054.4 293.3 L2056.9 295.3 L2059.4 297.1 L2062.0 298.7 L2064.6 299.9 L2067.4 300.7 L2070.3 300.9 L2073.4 300.5Z" fill="#85BBE8"/>
<line x1="721.0" y1="565.9" x2="710.3" y2="604.3" stroke="#0070C8" stroke-width="7.8" stroke-linecap="round"/>
<line x1="746.9" y1="561.6" x2="735.6" y2="602.0" stroke="#0070C8" stroke-width="8.1" stroke-linecap="round"/>
<line x1="772.7" y1="557.6" x2="761.0" y2="599.6" stroke="#0070C8" stroke-width="8.3" stroke-linecap="round"/>
<line x1="798.6" y1="553.3" x2="786.5" y2="596.9" stroke="#0070C8" stroke-width="8.6" stroke-linecap="round"/>
<line x1="824.5" y1="549.4" x2="812.0" y2="594.1" stroke="#0070C8" stroke-width="8.8" stroke-linecap="round"/>
<line x1="850.4" y1="545.5" x2="837.5" y2="591.8" stroke="#0070C8" stroke-width="9.1" stroke-linecap="round"/>
<line x1="876.1" y1="541.4" x2="863.0" y2="589.1" stroke="#0070C8" stroke-width="9.3" stroke-linecap="round"/>
<line x1="901.9" y1="537.3" x2="888.2" y2="586.7" stroke="#0070C8" stroke-width="9.6" stroke-linecap="round"/>
<line x1="928.0" y1="533.4" x2="913.4" y2="584.2" stroke="#0070C8" stroke-width="9.8" stroke-linecap="round"/>
<path d="M248.9 597.0 L249.7 593.7 L252.5 589.8 L255.7 586.1 L258.6 582.8 L261.2 579.9 L263.7 577.2 L266.3 574.4 L269.0 571.7 L271.9 568.9 L274.9 566.2 L278.0 563.6 L281.1 560.9 L284.3 558.4 L287.6 555.9 L291.0 553.6 L294.3 551.3 L297.8 549.1 L301.2 547.0 L304.7 544.9 L308.3 543.0 L311.8 541.1 L315.4 539.3 L319.1 537.6 L322.7 535.9 L326.4 534.3 L330.1 532.8 L333.9 531.3 L337.6 529.9 L341.4 528.5 L345.2 527.2 L349.0 525.9 L352.8 524.7 L356.7 523.5 L360.5 522.4 L364.4 521.3 L368.2 520.2 L372.1 519.2 L376.0 518.2 L379.9 517.3 L383.8 516.4 L387.8 515.5 L391.7 514.7 L395.7 514.0 L399.6 513.3 L403.6 512.6 L407.6 512.0 L411.6 511.4 L415.6 510.8 L419.6 510.4 L423.7 509.9 L427.7 509.6 L431.9 509.6 L436.1 510.0 L439.7 511.0 L439.1 511.9 L435.0 512.6 L430.8 513.3 L426.7 513.9 L422.7 514.5 L418.7 515.1 L414.7 515.7 L410.7 516.4 L406.7 517.1 L402.8 517.8 L398.9 518.6 L395.0 519.5 L391.1 520.5 L387.3 521.5 L383.4 522.7 L379.6 523.9 L375.8 525.3 L372.0 526.6 L368.2 528.1 L364.5 529.6 L360.7 531.1 L357.0 532.7 L353.2 534.3 L349.5 535.9 L345.8 537.6 L342.1 539.2 L338.5 540.9 L334.8 542.6 L331.1 544.2 L327.5 545.9 L323.9 547.5 L320.3 549.2 L316.7 550.9 L313.2 552.7 L309.6 554.5 L306.1 556.3 L302.7 558.3 L299.3 560.3 L295.9 562.4 L292.6 564.7 L289.3 567.1 L286.1 569.6 L283.0 572.2 L279.9 575.0 L276.8 578.0 L273.9 581.2 L271.0 584.5 L268.1 588.1 L265.4 591.7 L262.6 595.0 L259.8 597.7 L256.9 599.6 L253.9 600.2 L250.8 599.3Z" fill="#CDEBFF"/>
<path d="M343.2 689.5 L344.6 688.2 L348.6 687.8 L353.8 687.9 L359.1 688.4 L363.8 689.1 L368.0 689.9 L371.9 690.8 L375.6 691.7 L379.2 692.7 L382.8 693.7 L386.6 694.6 L390.3 695.5 L394.2 696.4 L398.0 697.3 L401.9 698.1 L405.9 698.9 L409.8 699.7 L413.8 700.5 L417.8 701.2 L421.8 701.9 L425.8 702.5 L429.9 703.1 L433.9 703.7 L438.0 704.2 L442.0 704.7 L446.0 705.2 L450.1 705.6 L454.1 706.0 L458.2 706.4 L462.2 706.7 L466.3 706.9 L470.3 707.2 L474.4 707.3 L478.4 707.5 L482.4 707.6 L486.5 707.6 L490.5 707.6 L494.5 707.5 L498.5 707.4 L502.5 707.3 L506.5 707.1 L510.5 706.8 L514.4 706.5 L518.4 706.2 L522.3 705.8 L526.2 705.3 L530.2 704.8 L534.1 704.3 L538.0 703.7 L542.0 703.1 L545.9 702.5 L549.9 701.8 L553.9 701.1 L557.8 700.3 L561.9 699.6 L565.9 698.8 L569.9 697.9 L574.0 697.1 L578.1 696.2 L582.2 695.4 L586.4 694.5 L590.6 693.5 L594.7 692.7 L598.4 692.4 L601.0 693.3 L602.0 695.9 L601.1 698.8 L598.7 701.6 L595.4 704.1 L591.5 706.5 L587.5 708.6 L583.6 710.6 L579.7 712.4 L575.8 714.0 L571.9 715.5 L568.1 716.9 L564.2 718.1 L560.4 719.1 L556.6 720.1 L552.7 721.0 L548.9 721.8 L545.0 722.5 L541.1 723.1 L537.3 723.7 L533.3 724.3 L529.4 724.7 L525.4 725.2 L521.4 725.6 L517.4 725.9 L513.4 726.2 L509.4 726.4 L505.4 726.6 L501.3 726.8 L497.3 726.9 L493.2 726.9 L489.2 726.9 L485.1 726.8 L481.0 726.7 L477.0 726.5 L472.9 726.3 L468.8 726.1 L464.8 725.7 L460.7 725.4 L456.7 724.9 L452.7 724.5 L448.7 724.0 L444.7 723.4 L440.7 722.8 L436.7 722.1 L432.8 721.4 L428.8 720.6 L424.9 719.8 L421.0 719.0 L417.1 718.1 L413.2 717.2 L409.3 716.2 L405.4 715.2 L401.5 714.2 L397.7 713.1 L393.8 712.0 L390.0 710.9 L386.1 709.7 L382.3 708.5 L378.5 707.3 L374.6 706.1 L370.8 704.7 L367.1 703.3 L363.3 701.7 L359.6 700.0 L355.9 698.2 L352.2 696.1 L348.6 693.9 L345.1 691.6Z" fill="#CDEBFF"/>
<path d="M638.3 560.7 L641.4 560.0 L645.2 560.9 L649.0 563.0 L652.4 566.0 L655.0 569.3 L657.0 573.0 L658.5 576.8 L659.4 580.7 L660.0 584.7 L660.1 588.7 L659.9 592.8 L659.3 596.9 L658.5 601.0 L657.3 605.0 L655.6 608.8 L653.2 612.3 L650.2 615.4 L646.7 617.7 L643.1 619.0 L639.8 618.6 L637.1 616.5 L634.9 613.1 L633.3 609.1 L632.0 605.1 L631.1 601.0 L630.6 596.9 L630.4 592.7 L630.5 588.5 L630.9 584.2 L631.5 580.0 L632.3 575.7 L633.3 571.3 L634.5 567.1 L636.0 563.2Z" fill="#A9358A"/>
<path d="M636.5 558.5 L637.4 562.7 L638.2 567.0 L638.9 571.2 L639.5 575.5 L640.1 579.8 L640.5 584.1 L640.8 588.5 L641.0 592.8 L641.0 597.1 L640.9 601.4 L640.6 605.7 L640.2 610.0 L639.6 614.3 L638.8 618.6 L641.7 615.5 L644.0 612.0 L645.8 608.2 L647.1 604.2 L648.0 600.0 L648.4 595.6 L648.4 591.1 L648.1 586.6 L647.4 582.1 L646.3 577.7 L644.9 573.4 L643.2 569.3 L641.2 565.4 L639.0 561.8 L636.5 558.5Z" fill="#770A52"/>
<path d="M545.9 523.0 L550.4 521.9 L555.2 521.0 L560.2 520.5 L565.3 520.2 L570.5 520.2 L575.7 520.5 L581.0 521.2 L586.3 522.1 L591.5 523.3 L596.7 524.8 L601.7 526.6 L606.4 528.7 L611.0 531.2 L615.3 533.9 L619.3 537.0 L623.0 540.3 L626.4 544.0 L629.4 547.9 L632.0 552.0 L634.4 556.4 L636.4 560.9 L638.2 565.7 L639.6 570.5 L640.7 575.5 L641.5 580.6 L642.0 585.8 L642.3 591.0 L642.2 596.3 L641.8 601.6 L641.2 606.8 L640.2 612.0 L639.0 617.1 L637.4 622.1 L635.6 626.9 L633.5 631.6 L631.1 636.1 L628.4 640.4 L625.4 644.5 L622.2 648.4 L618.7 652.1 L615.0 655.5 L611.1 658.7 L607.0 661.7 L602.7 664.5 L598.3 667.0 L593.7 669.3 L588.9 671.4 L584.1 673.2 L579.2 674.8 L574.1 676.1 L569.0 677.1 L563.9 678.0 L558.7 678.5 L553.5 678.8 L545.0 660.0 L560.0 600.0 L545.0 540.0Z" fill="#A9358A"/>
<path d="M450.0 512.0 L444.9 513.3 L439.9 514.6 L434.9 515.8 L429.9 517.0 L424.9 518.1 L419.9 519.2 L415.0 520.4 L410.1 521.5 L405.2 522.6 L400.3 523.7 L395.4 524.9 L390.6 526.0 L385.7 527.2 L380.9 528.5 L376.1 529.7 L371.3 531.1 L366.5 532.5 L361.8 533.9 L357.0 535.5 L352.3 537.1 L347.5 538.9 L342.8 540.7 L338.1 542.6 L333.4 544.7 L328.7 546.8 L324.0 549.1 L319.4 551.5 L314.7 554.1 L310.2 556.8 L305.7 559.6 L301.3 562.6 L297.1 565.6 L292.9 568.9 L288.9 572.2 L285.1 575.7 L281.4 579.4 L278.0 583.2 L274.7 587.1 L271.7 591.2 L268.9 595.4 L266.4 599.8 L264.2 604.3 L262.4 608.9 L261.2 613.5 L260.7 618.1 L261.0 622.6 L262.1 627.1 L263.8 631.5 L266.2 635.7 L269.0 639.8 L272.3 643.8 L276.0 647.5 L279.9 651.0 L284.0 654.2 L288.2 657.3 L292.6 660.1 L297.1 662.7 L301.7 665.1 L306.4 667.3 L311.1 669.4 L315.9 671.4 L320.8 673.2 L325.7 675.0 L330.6 676.6 L335.5 678.2 L340.3 679.8 L345.2 681.2 L350.1 682.6 L355.0 684.0 L359.9 685.3 L364.8 686.5 L369.7 687.7 L374.6 688.8 L379.5 689.8 L384.5 690.8 L389.4 691.8 L394.3 692.7 L399.3 693.5 L404.3 694.3 L409.2 695.1 L414.2 695.8 L419.2 696.5 L424.3 697.1 L429.3 697.7 L434.4 698.2 L439.5 698.7 L444.6 699.2 L449.7 699.6 L454.8 700.0 L460.0 700.3Z" fill="#EA2DC0"/>
<path d="M552.4 678.2 L547.1 681.8 L541.7 685.0 L536.2 687.9 L530.6 690.4 L525.0 692.6 L519.4 694.6 L513.6 696.2 L507.9 697.6 L502.0 698.7 L496.2 699.6 L490.3 700.2 L484.3 700.6 L478.4 700.8 L472.3 700.8 L466.3 700.6 L460.3 700.2 L454.2 699.7 L448.1 699.0 L442.0 698.2 L436.0 697.2 L429.9 696.2 L423.8 695.0 L417.7 693.7 L411.6 692.4 L405.6 691.0 L399.5 689.5 L393.5 688.0 L387.5 686.5 L381.6 684.9 L375.7 683.2 L369.8 681.4 L364.0 679.5 L358.3 677.4 L352.6 675.2 L347.0 672.9 L341.5 670.4 L336.1 667.8 L330.7 664.9 L325.5 661.8 L320.3 658.5 L315.3 655.0 L310.4 651.2 L305.6 647.1 L301.0 642.8 L296.9 638.3 L293.3 633.5 L290.5 628.6 L288.6 623.4 L287.7 618.1 L288.0 612.7 L289.3 607.2 L291.5 601.8 L294.3 596.4 L297.7 591.2 L301.6 586.2 L305.7 581.5 L310.3 576.9 L315.0 572.5 L320.0 568.4 L325.0 564.4 L330.2 560.6 L335.4 557.0 L340.5 553.6 L345.8 550.4 L351.0 547.3 L356.3 544.4 L361.6 541.7 L366.9 539.1 L372.3 536.6 L377.7 534.2 L383.1 532.0 L388.6 529.8 L394.2 527.8 L399.8 525.8 L405.5 524.0 L411.2 522.1 L417.1 520.4 L422.9 518.7 L428.9 517.1 L434.9 515.5 L440.9 514.1 L447.0 512.7 L453.1 511.5 L459.2 510.4 L465.4 509.5 L471.5 508.8 L477.7 508.2 L483.8 507.9 L489.9 507.8 L496.0 507.9 L502.0 508.3 L508.0 509.0 L513.9 510.0 L519.7 511.2 L525.5 512.9 L531.2 514.8 L536.8 517.1 L542.2 519.8 L547.6 522.9 L551.2 526.7 L554.6 530.7 L557.8 534.8 L560.7 539.1 L563.4 543.6 L565.8 548.2 L568.0 552.9 L570.0 557.8 L571.8 562.7 L573.3 567.8 L574.7 572.9 L575.8 578.1 L576.6 583.4 L577.3 588.7 L577.7 594.0 L577.9 599.3 L577.9 604.7 L577.7 610.1 L577.3 615.4 L576.6 620.7 L575.8 626.0 L574.7 631.2 L573.4 636.4 L571.9 641.5 L570.2 646.5 L568.3 651.4 L566.1 656.2 L563.8 660.9 L561.3 665.5 L558.5 669.9 L555.6 674.1Z" fill="#A9358A"/>
<path d="M547.6 522.9 L551.2 526.7 L554.6 530.7 L557.8 534.8 L560.7 539.1 L563.4 543.6 L565.8 548.2 L568.0 552.9 L570.0 557.8 L571.8 562.7 L573.3 567.8 L574.7 572.9 L575.8 578.1 L576.6 583.4 L577.3 588.7 L577.7 594.0 L577.9 599.3 L577.9 604.7 L577.7 610.1 L577.3 615.4 L576.6 620.7 L575.8 626.0 L574.7 631.2 L573.4 636.4 L571.9 641.5 L570.2 646.5 L568.3 651.4 L566.1 656.2 L563.8 660.9 L561.3 665.5 L558.5 669.9 L555.6 674.1 L552.4 678.2 L556.6 674.9 L560.5 671.3 L564.0 667.6 L567.1 663.6 L569.9 659.4 L572.4 655.0 L574.6 650.5 L576.5 645.8 L578.2 640.9 L579.6 636.0 L580.7 630.9 L581.6 625.8 L582.3 620.6 L582.8 615.3 L583.1 610.0 L583.3 604.6 L583.3 599.2 L583.1 593.9 L582.7 588.6 L582.2 583.3 L581.5 578.0 L580.5 572.8 L579.3 567.8 L577.9 562.8 L576.2 558.0 L574.3 553.3 L572.1 548.7 L569.6 544.4 L566.7 540.2 L563.6 536.2 L560.1 532.5 L556.3 529.0 L552.1 525.8 L547.6 522.9Z" fill="#770A52"/>
<line x1="325.2" y1="596.8" x2="325.2" y2="611.8" stroke="#FFFFFF" stroke-width="2.8"/>
<line x1="325.2" y1="611.8" x2="325.2" y2="626.8" stroke="#8CC63F" stroke-width="2.8"/>
<circle cx="325.2" cy="596.8" r="5" fill="#FFFFFF"/>
<circle cx="325.2" cy="626.8" r="5" fill="#8CC63F"/>
<line x1="336.7" y1="599.0" x2="336.7" y2="611.9" stroke="#FFFFFF" stroke-width="2.8"/>
<line x1="336.7" y1="611.9" x2="336.7" y2="624.8" stroke="#8CC63F" stroke-width="2.8"/>
<circle cx="336.7" cy="599.0" r="5" fill="#FFFFFF"/>
<circle cx="336.7" cy="624.8" r="5" fill="#8CC63F"/>
<line x1="347.0" y1="604.0" x2="347.0" y2="611.8" stroke="#FFFFFF" stroke-width="2.8"/>
<line x1="347.0" y1="611.8" x2="347.0" y2="619.5" stroke="#8CC63F" stroke-width="2.8"/>
<circle cx="347.0" cy="604.0" r="5" fill="#FFFFFF"/>
<circle cx="347.0" cy="619.5" r="5" fill="#8CC63F"/>
<circle cx="356.3" cy="612.0" r="5" fill="#FFFFFF"/>
<line x1="366.2" y1="604.0" x2="366.2" y2="611.8" stroke="#8CC63F" stroke-width="2.8"/>
<line x1="366.2" y1="611.8" x2="366.2" y2="619.5" stroke="#FFFFFF" stroke-width="2.8"/>
<circle cx="366.2" cy="604.0" r="5" fill="#8CC63F"/>
<circle cx="366.2" cy="619.5" r="5" fill="#FFFFFF"/>
<line x1="377.7" y1="598.0" x2="377.7" y2="611.8" stroke="#8CC63F" stroke-width="2.8"/>
<line x1="377.7" y1="611.8" x2="377.7" y2="625.5" stroke="#FFFFFF" stroke-width="2.8"/>
<circle cx="377.7" cy="598.0" r="5" fill="#8CC63F"/>
<circle cx="377.7" cy="625.5" r="5" fill="#FFFFFF"/>
<line x1="388.5" y1="595.0" x2="388.5" y2="612.0" stroke="#8CC63F" stroke-width="2.8"/>
<line x1="388.5" y1="612.0" x2="388.5" y2="629.0" stroke="#FFFFFF" stroke-width="2.8"/>
<circle cx="388.5" cy="595.0" r="5" fill="#8CC63F"/>
<circle cx="388.5" cy="629.0" r="5" fill="#FFFFFF"/>
<line x1="399.5" y1="595.8" x2="399.5" y2="612.0" stroke="#8CC63F" stroke-width="2.8"/>
<line x1="399.5" y1="612.0" x2="399.5" y2="628.2" stroke="#FFFFFF" stroke-width="2.8"/>
<circle cx="399.5" cy="595.8" r="5" fill="#8CC63F"/>
<circle cx="399.5" cy="628.2" r="5" fill="#FFFFFF"/>
<line x1="410.0" y1="599.8" x2="410.0" y2="611.9" stroke="#8CC63F" stroke-width="2.8"/>
<line x1="410.0" y1="611.9" x2="410.0" y2="624.0" stroke="#FFFFFF" stroke-width="2.8"/>
<circle cx="410.0" cy="599.8" r="5" fill="#8CC63F"/>
<circle cx="410.0" cy="624.0" r="5" fill="#FFFFFF"/>
<line x1="419.8" y1="606.2" x2="419.8" y2="612.0" stroke="#8CC63F" stroke-width="2.8"/>
<line x1="419.8" y1="612.0" x2="419.8" y2="617.8" stroke="#FFFFFF" stroke-width="2.8"/>
<circle cx="419.8" cy="606.2" r="5" fill="#8CC63F"/>
<circle cx="419.8" cy="617.8" r="5" fill="#FFFFFF"/>
<circle cx="429.0" cy="613.2" r="5" fill="#8CC63F"/>
<line x1="438.2" y1="606.2" x2="438.2" y2="612.1" stroke="#FFFFFF" stroke-width="2.8"/>
<line x1="438.2" y1="612.1" x2="438.2" y2="618.0" stroke="#8CC63F" stroke-width="2.8"/>
<circle cx="438.2" cy="606.2" r="5" fill="#FFFFFF"/>
<circle cx="438.2" cy="618.0" r="5" fill="#8CC63F"/>
<line x1="448.0" y1="599.8" x2="448.0" y2="612.1" stroke="#FFFFFF" stroke-width="2.8"/>
<line x1="448.0" y1="612.1" x2="448.0" y2="624.5" stroke="#8CC63F" stroke-width="2.8"/>
<circle cx="448.0" cy="599.8" r="5" fill="#FFFFFF"/>
<circle cx="448.0" cy="624.5" r="5" fill="#8CC63F"/>
<line x1="458.7" y1="595.0" x2="458.7" y2="612.0" stroke="#FFFFFF" stroke-width="2.8"/>
<line x1="458.7" y1="612.0" x2="458.7" y2="629.0" stroke="#8CC63F" stroke-width="2.8"/>
<circle cx="458.7" cy="595.0" r="5" fill="#FFFFFF"/>
<circle cx="458.7" cy="629.0" r="5" fill="#8CC63F"/>
<line x1="469.7" y1="594.3" x2="469.7" y2="612.0" stroke="#FFFFFF" stroke-width="2.8"/>
<line x1="469.7" y1="612.0" x2="469.7" y2="629.7" stroke="#8CC63F" stroke-width="2.8"/>
<circle cx="469.7" cy="594.3" r="5" fill="#FFFFFF"/>
<circle cx="469.7" cy="629.7" r="5" fill="#8CC63F"/>
<line x1="480.5" y1="598.0" x2="480.5" y2="612.1" stroke="#FFFFFF" stroke-width="2.8"/>
<line x1="480.5" y1="612.1" x2="480.5" y2="626.2" stroke="#8CC63F" stroke-width="2.8"/>
<circle cx="480.5" cy="598.0" r="5" fill="#FFFFFF"/>
<circle cx="480.5" cy="626.2" r="5" fill="#8CC63F"/>
<line x1="491.5" y1="604.0" x2="491.5" y2="612.2" stroke="#FFFFFF" stroke-width="2.8"/>
<line x1="491.5" y1="612.2" x2="491.5" y2="620.5" stroke="#8CC63F" stroke-width="2.8"/>
<circle cx="491.5" cy="604.0" r="5" fill="#FFFFFF"/>
<circle cx="491.5" cy="620.5" r="5" fill="#8CC63F"/>
<circle cx="501.5" cy="613.3" r="5" fill="#FFFFFF"/>
<line x1="511.0" y1="605.8" x2="511.0" y2="613.5" stroke="#8CC63F" stroke-width="2.8"/>
<line x1="511.0" y1="613.5" x2="511.0" y2="621.2" stroke="#FFFFFF" stroke-width="2.8"/>
<circle cx="511.0" cy="605.8" r="5" fill="#8CC63F"/>
<circle cx="511.0" cy="621.2" r="5" fill="#FFFFFF"/>
<line x1="521.5" y1="600.5" x2="521.5" y2="613.5" stroke="#8CC63F" stroke-width="2.8"/>
<line x1="521.5" y1="613.5" x2="521.5" y2="626.5" stroke="#FFFFFF" stroke-width="2.8"/>
<circle cx="521.5" cy="600.5" r="5" fill="#8CC63F"/>
<circle cx="521.5" cy="626.5" r="5" fill="#FFFFFF"/>
<line x1="532.8" y1="598.5" x2="532.8" y2="613.8" stroke="#8CC63F" stroke-width="2.8"/>
<line x1="532.8" y1="613.8" x2="532.8" y2="629.0" stroke="#FFFFFF" stroke-width="2.8"/>
<circle cx="532.8" cy="598.5" r="5" fill="#8CC63F"/>
<circle cx="532.8" cy="629.0" r="5" fill="#FFFFFF"/>
<line x1="237.5" y1="406.0" x2="254.3" y2="578.6" stroke="#333333" stroke-width="5.3" stroke-linecap="round"/><path d="M256.4 600.0 L241.3 571.3 L254.3 578.6 L265.6 569.0Z" fill="#333333"/>
<line x1="436.8" y1="315.0" x2="440.2" y2="479.5" stroke="#333333" stroke-width="5.3" stroke-linecap="round"/><path d="M440.6 501.0 L427.8 471.3 L440.2 479.5 L452.2 470.8Z" fill="#333333"/>
<line x1="699.4" y1="290.0" x2="505.9" y2="545.5" stroke="#333333" stroke-width="5.3" stroke-linecap="round"/><path d="M492.9 562.6 L501.3 531.3 L505.9 545.5 L520.7 546.1Z" fill="#333333"/>
<line x1="1061.5" y1="303.8" x2="893.9" y2="512.9" stroke="#333333" stroke-width="5.3" stroke-linecap="round"/><path d="M880.5 529.7 L889.7 498.7 L893.9 512.9 L908.8 513.9Z" fill="#333333"/>
<path d="M220.4 751.5V821H666.0V751.5M440.8 821V853" fill="none" stroke="#000" stroke-width="3.4"/>
<path d="M678.8 751.5V821H1072.5V751.5M876.0 821V853" fill="none" stroke="#000" stroke-width="3.4"/>
<path d="M1085.5 751.5V821H2196.5V751.5M1637.0 821V853" fill="none" stroke="#000" stroke-width="3.4"/>
<text transform="scale(0.9057,1)" x="55.5 109.4 154.6 184.9 232.7 275.0 326.6 400.9" y="390.0" font-size="84.5">Acrosome</text>
<text transform="scale(0.8847,1)" x="322.7 387.7 438.0 483.3 509.3 559.7 608.7" y="290.8" font-size="84.5">Nucleus</text>
<text transform="scale(0.8536,1)" x="735.5 802.1 867.1" y="273.1" font-size="87.0">DNA</text>
<text transform="scale(0.9419,1)" x="885.8 960.4 984.4 1011.1 1058.9 1101.4 1150.3 1199.1 1248.3 1298.5 1328.5 1348.1" y="272.9" font-size="84.5">Mitochondria</text>
<text transform="scale(0.8688,1)" x="401.7 466.1 512.1 565.7" y="920.8" font-size="84.5">Head</text>
<text transform="scale(0.9173,1)" x="764.4 840.0 862.4 900.3 938.3 989.3 1010.3 1057.0 1096.8" y="920.6" font-size="84.5">Mid piece</text>
<text transform="scale(0.8512,1)" x="1849.8 1890.7 1945.8 1972.0" y="920.8" font-size="84.5">Tail</text>
</svg></body></html>
